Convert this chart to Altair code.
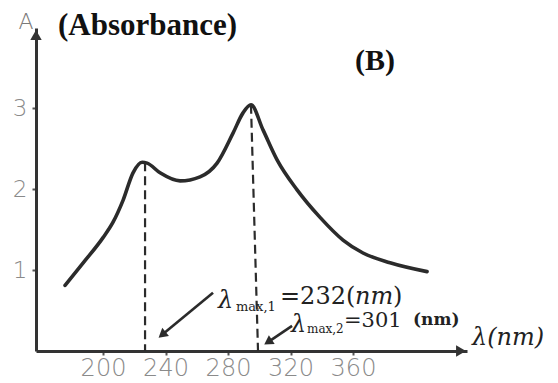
import altair as alt
import pandas as pd

# ---- data ----
wavelength_nm = [175.7, 187.8, 200.0, 206.4, 212.8, 219.2, 225.0, 228.2, 236.5, 249.3,
                 262.1, 273.0, 283.2, 289.6, 294.7, 302.4, 311.4, 324.2, 338.9, 353.6,
                 366.4, 383.7, 407.4]
absorbance = [0.81, 1.10, 1.40, 1.59, 1.86, 2.20, 2.33, 2.32, 2.20, 2.10,
              2.15, 2.32, 2.69, 2.94, 3.04, 2.73, 2.36, 1.99, 1.65, 1.37,
              1.21, 1.09, 0.98]

x_ticks = [200, 240, 280, 320, 360]
y_ticks = [1, 2, 3]

# dashed drop lines from the two maxima (top lambda, bottom lambda, top absorbance)
peak_top_nm = [226.9, 294.7]
peak_bottom_nm = [226.9, 299.2]
peak_abs = [2.33, 3.04]

# annotation arrows (tail -> head, data coordinates)
arrow_tail_nm = [270.4, 321.0]
arrow_tail_abs = [0.72, 0.31]
arrow_head_nm = [237.8, 305.6]
arrow_head_abs = [0.20, 0.11]
arrow_angle = [230.5, 236.3]

X_DOMAIN = [157.1, 432.96]
Y_DOMAIN = [0, 3.988]
W, H = 431, 323
INK = "#2b2b2b"

xs = alt.Scale(domain=X_DOMAIN, nice=False, zero=False)
ys = alt.Scale(domain=Y_DOMAIN, nice=False, zero=False)

X_AX = alt.Axis(
    values=x_ticks, title=None, grid=False, domainColor="#333", domainWidth=3,
    tickColor="#555", tickSize=4, tickWidth=2, labelPadding=1,
    labelFont="DejaVu Sans", labelFontSize=24, labelFontWeight=200,
    labelColor="#8a8a8a", labelFlush=False)
Y_AX = alt.Axis(
    values=y_ticks, title=None, grid=False, domainColor="#333", domainWidth=3,
    tickColor="#555", tickSize=4, tickWidth=2, labelPadding=5,
    labelFont="DejaVu Sans", labelFontSize=23, labelFontWeight=200,
    labelColor="#8a8a8a", labelFlush=False)

curve_df = pd.DataFrame({"nm": wavelength_nm, "A": absorbance})
drop_df = pd.DataFrame({"nm": peak_top_nm, "nm2": peak_bottom_nm, "A": peak_abs, "A0": [0, 0]})
arrow_df = pd.DataFrame({"nm": arrow_tail_nm, "A": arrow_tail_abs,
                         "nm2": arrow_head_nm, "A2": arrow_head_abs, "ang": arrow_angle})
head_df = pd.DataFrame({"nm": arrow_head_nm, "A": arrow_head_abs, "ang": arrow_angle})

curve = alt.Chart(curve_df).mark_line(
    interpolate="monotone", color=INK, strokeWidth=3.6, strokeCap="round"
).encode(
    x=alt.X("nm:Q", scale=xs, axis=X_AX),
    y=alt.Y("A:Q", scale=ys, axis=Y_AX),
)

drops = alt.Chart(drop_df).mark_rule(
    color=INK, strokeWidth=2.2, strokeDash=[9, 5]
).encode(
    x=alt.X("nm:Q", scale=xs, axis=X_AX), x2="nm2:Q",
    y=alt.Y("A:Q", scale=ys, axis=Y_AX), y2="A0:Q",
)

arrow_lines = alt.Chart(arrow_df).mark_rule(color=INK, strokeWidth=2.6).encode(
    x=alt.X("nm:Q", scale=xs, axis=X_AX), x2="nm2:Q",
    y=alt.Y("A:Q", scale=ys, axis=Y_AX), y2="A2:Q",
)
arrow_heads = alt.Chart(head_df).mark_point(
    shape="triangle-up", filled=True, color=INK, opacity=1, size=110
).encode(
    x=alt.X("nm:Q", scale=xs, axis=X_AX),
    y=alt.Y("A:Q", scale=ys, axis=Y_AX),
    angle=alt.Angle("ang:Q", scale=None),
)

one = pd.DataFrame({"k": [0]})


def txt(text, px, py, font="DejaVu Serif", size=24, weight="normal", style="normal",
        color="#222", align="left"):
    return alt.Chart(one).mark_text(
        text=text, font=font, fontSize=size, fontWeight=weight, fontStyle=style,
        color=color, align=align, baseline="alphabetic"
    ).encode(x=alt.value(px), y=alt.value(py))


def head(shape, px, py, size):
    return alt.Chart(one).mark_point(
        shape=shape, filled=True, color="#333", opacity=1, size=size
    ).encode(x=alt.value(px), y=alt.value(py))


texts = [
    txt("A", -10, 1, font="DejaVu Sans", size=22, weight=200, color="#7a7a7a", align="center"),
    txt("(Absorbance)", 22, 7, font="Liberation Serif", size=31, weight="bold", color="#111"),
    txt("(B)", 319, 42, font="Liberation Serif", size=30, weight="bold", color="#111"),
    # lambda max 1
    txt("λ", 182, 280, size=24, style="italic"),
    txt("max,1", 200, 283, size=13),
    txt("=232(", 244, 276, size=24),
    txt("nm", 319, 276, size=24, style="italic"),
    txt(")", 357, 276, size=24),
    # lambda max 2
    txt("λ", 255, 304, size=24, style="italic"),
    txt("max,2", 271, 305, size=12),
    txt("=301", 308, 299, size=21),
    txt("(nm)", 377, 297, size=17, weight="bold"),
    # x axis title
    txt("λ(nm)", 436, 317, size=24, style="italic"),
]

heads = [head("triangle-up", 0, 7, 130), head("triangle-right", W - 6, H, 130)]

chart = alt.layer(curve, drops, arrow_lines, arrow_heads, *heads, *texts).properties(
    width=W, height=H,
    padding={"left": 28, "top": 20, "right": 80, "bottom": 30},
    autosize=alt.AutoSizeParams(type="none"),
    background="white",
).configure_view(stroke=None)

chart.save("out.html", embed_options={"renderer": "svg", "actions": False})
